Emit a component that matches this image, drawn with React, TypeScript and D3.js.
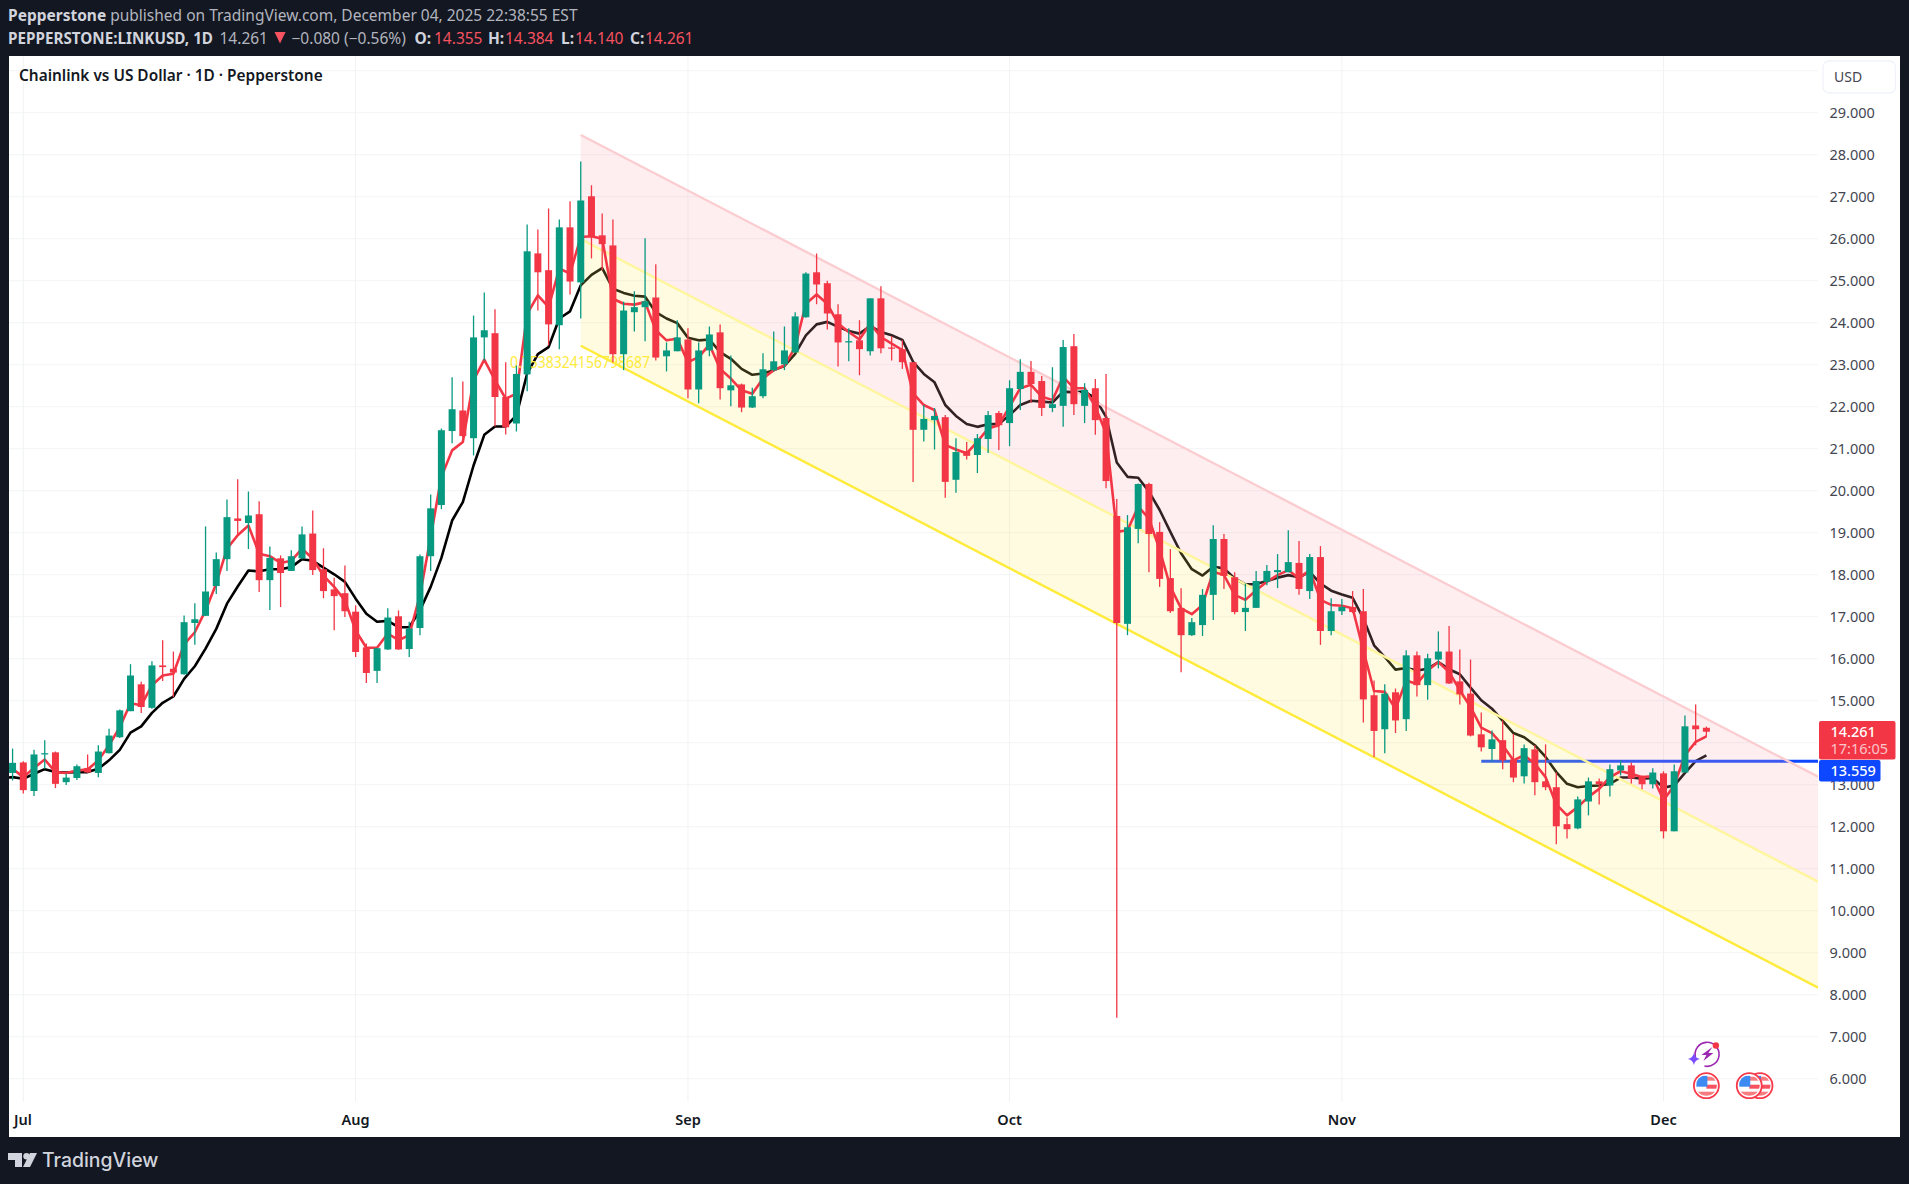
import * as d3 from "d3";

const firstCandle = Date.UTC(2025, 5, 30);
const firstAverage = Date.UTC(2025, 5, 29);
const DAY = 86400000;

const opens = [
  13.28, 13.53, 12.85, 13.72, 13.77, 13.06, 13.16, 13.40, 13.28, 13.75,
  14.13, 14.75, 15.39, 14.83, 15.84, 15.76, 15.63, 16.85, 17.02, 17.73,
  18.37, 19.34, 19.23, 19.44, 17.87, 18.39, 18.09, 18.39, 18.98, 18.13,
  17.65, 17.56, 17.12, 16.27, 15.71, 16.22, 17.01, 16.23, 16.73, 18.44,
  19.66, 21.42, 21.91, 21.25, 23.65, 23.75, 22.23, 21.60, 22.77, 25.65,
  25.25, 23.94, 26.27, 24.96, 27.01, 26.08, 25.84, 23.25, 24.25, 24.37,
  24.60, 23.20, 23.32, 23.60, 22.41, 23.34, 23.77, 22.39, 22.53, 21.98,
  22.25, 22.87, 23.01, 23.29, 24.13, 25.20, 24.94, 24.20, 23.53, 23.58,
  23.32, 24.58, 23.41, 23.37, 23.06, 21.45, 21.68, 21.75, 20.26, 20.94,
  20.85, 21.23, 21.85, 21.61, 22.42, 22.83, 22.61, 21.97, 22.02, 23.44,
  22.02, 22.44, 21.73, 19.40, 16.83, 19.09, 20.16, 19.02, 17.92, 17.21,
  16.56, 16.80, 17.52, 18.85, 17.94, 17.11, 17.21, 17.83, 18.06, 18.06,
  18.28, 17.61, 18.42, 16.66, 17.13, 17.23, 17.13, 15.13, 14.32, 15.20,
  14.56, 16.08, 15.37, 15.98, 16.17, 15.46, 15.17, 14.20, 13.85, 14.06,
  13.60, 13.20, 13.84, 13.08, 12.94, 12.06, 11.96, 12.60, 13.08, 12.98,
  13.34, 13.46, 13.17, 13.01, 13.27, 11.89, 13.29, 14.41, 14.355,
];
const highs = [
  13.86, 13.56, 13.83, 14.06, 13.79, 13.26, 13.48, 13.72, 13.94, 14.33,
  14.79, 15.87, 15.45, 15.94, 16.44, 16.17, 17.03, 17.32, 19.15, 18.53,
  19.79, 20.27, 19.98, 19.75, 18.67, 18.46, 18.58, 19.15, 19.53, 18.63,
  17.93, 18.22, 17.27, 16.36, 16.26, 17.20, 17.15, 16.88, 18.48, 19.91,
  21.48, 22.70, 22.60, 24.17, 24.72, 24.32, 23.06, 22.98, 26.34, 26.22,
  26.72, 26.46, 26.89, 27.84, 27.27, 26.60, 26.46, 24.50, 24.75, 26.01,
  25.39, 23.53, 24.06, 23.87, 23.53, 23.91, 23.96, 23.22, 22.55, 22.45,
  23.27, 23.79, 23.91, 24.25, 25.20, 25.65, 25.00, 24.44, 23.87, 24.06,
  24.58, 24.87, 23.68, 23.58, 23.06, 22.04, 21.97, 21.80, 21.25, 21.16,
  21.35, 21.90, 21.90, 22.63, 23.13, 23.09, 22.73, 22.94, 23.59, 23.73,
  22.56, 22.66, 22.78, 19.80, 19.42, 20.17, 20.19, 19.25, 18.61, 17.68,
  16.97, 17.66, 19.18, 18.97, 18.06, 17.79, 18.09, 18.23, 18.49, 19.06,
  18.80, 18.49, 18.68, 17.44, 17.42, 17.61, 17.66, 15.48, 15.39, 15.29,
  16.20, 16.17, 16.12, 16.65, 16.78, 16.22, 15.98, 14.72, 14.29, 14.53,
  14.21, 13.96, 13.94, 13.96, 13.29, 12.22, 12.72, 13.17, 13.15, 13.48,
  13.58, 13.53, 13.22, 13.39, 13.32, 13.48, 14.65, 14.91, 14.384,
];
const lows = [
  13.10, 12.79, 12.73, 13.38, 12.92, 12.99, 13.11, 13.28, 13.18, 13.74,
  14.11, 14.75, 14.71, 14.81, 15.47, 15.09, 15.62, 16.33, 17.02, 17.54,
  18.09, 18.94, 18.61, 17.59, 17.16, 17.23, 18.09, 18.37, 17.99, 17.44,
  16.68, 16.99, 16.04, 15.42, 15.42, 16.21, 16.21, 16.04, 16.56, 18.09,
  19.56, 21.13, 21.25, 20.84, 23.10, 21.53, 21.34, 21.41, 22.37, 24.29,
  23.46, 23.37, 24.67, 24.10, 25.53, 25.25, 23.06, 22.87, 23.79, 23.56,
  23.10, 22.84, 23.32, 22.20, 22.08, 23.20, 22.17, 22.01, 21.87, 21.97,
  22.20, 22.84, 22.87, 23.29, 24.12, 24.44, 23.84, 22.96, 23.08, 22.75,
  23.22, 23.27, 23.10, 22.90, 20.21, 21.17, 20.98, 19.83, 19.95, 20.74,
  20.42, 20.90, 20.97, 21.06, 21.92, 22.09, 21.78, 21.87, 21.52, 21.80,
  21.61, 21.33, 20.06, 7.45, 16.56, 18.75, 18.06, 17.71, 17.09, 15.68,
  16.54, 16.54, 16.92, 17.66, 17.06, 16.66, 17.21, 17.75, 17.68, 18.06,
  17.52, 17.42, 16.33, 16.56, 17.04, 17.09, 14.48, 13.66, 13.75, 14.23,
  14.28, 15.10, 15.02, 15.77, 15.40, 14.91, 14.15, 13.79, 13.56, 13.37,
  13.06, 13.03, 12.75, 12.87, 11.58, 11.72, 11.94, 12.27, 12.53, 12.72,
  13.22, 13.03, 12.89, 12.91, 11.72, 11.89, 13.29, 13.94, 14.14,
];
const closes = [
  13.52, 12.87, 13.72, 13.75, 13.02, 13.17, 13.44, 13.29, 13.79, 14.17,
  14.77, 15.60, 14.85, 15.84, 15.80, 15.67, 16.87, 16.94, 17.60, 18.37,
  19.37, 19.28, 19.41, 17.87, 18.40, 18.04, 18.44, 18.96, 18.11, 17.61,
  17.49, 17.13, 16.16, 15.66, 16.25, 16.98, 16.22, 16.72, 18.44, 19.58,
  21.44, 21.94, 21.30, 23.65, 23.82, 22.23, 21.51, 22.78, 25.70, 25.20,
  23.96, 26.27, 24.98, 26.91, 26.06, 25.87, 23.25, 24.29, 24.37, 24.51,
  23.17, 23.34, 23.65, 22.41, 23.34, 23.72, 22.44, 22.51, 21.98, 22.25,
  22.89, 23.08, 23.34, 24.15, 25.17, 24.91, 24.22, 23.53, 23.56, 23.37,
  24.58, 23.39, 23.38, 23.06, 21.45, 21.71, 21.78, 20.21, 20.92, 20.83,
  21.25, 21.80, 21.56, 22.44, 22.83, 22.54, 21.97, 22.06, 23.42, 22.06,
  22.40, 21.68, 20.23, 16.85, 19.13, 20.16, 18.97, 17.90, 17.13, 16.56,
  16.87, 17.52, 18.85, 17.97, 17.11, 17.21, 17.85, 18.09, 18.11, 18.30,
  17.66, 18.42, 16.66, 17.13, 17.23, 17.11, 15.03, 14.28, 15.17, 14.53,
  16.08, 15.37, 16.01, 16.17, 15.41, 15.15, 14.17, 13.89, 14.08, 13.58,
  13.17, 13.87, 13.06, 12.94, 12.01, 11.94, 12.65, 13.08, 13.01, 13.37,
  13.46, 13.15, 13.01, 13.29, 11.89, 13.32, 14.39, 14.32, 14.261,
];

// fast average, first point is one day before the first candle
const fastAverage = [
  13.45, 13.38, 13.18, 13.40, 13.60, 13.30, 13.28, 13.34, 13.36, 13.58,
  13.94, 14.37, 14.94, 14.89, 15.37, 15.60, 15.64, 16.34, 16.63, 17.15,
  17.79, 18.62, 18.94, 19.17, 18.50, 18.44, 18.28, 18.33, 18.62, 18.38,
  17.98, 17.71, 17.39, 16.67, 16.26, 16.26, 16.60, 16.44, 16.56, 17.51,
  18.90, 20.33, 20.96, 21.16, 22.63, 23.12, 22.63, 22.19, 22.31, 24.21,
  24.65, 24.37, 25.29, 25.17, 26.04, 26.06, 26.00, 24.57, 24.45, 24.43,
  24.49, 23.82, 23.58, 23.62, 23.06, 23.18, 23.48, 22.90, 22.67, 22.39,
  22.31, 22.67, 22.87, 22.98, 23.42, 24.45, 24.67, 24.45, 23.98, 23.78,
  23.60, 23.98, 23.66, 23.50, 23.35, 22.32, 22.04, 21.92, 21.09, 20.98,
  20.89, 21.17, 21.48, 21.56, 22.00, 22.44, 22.52, 22.24, 22.16, 22.71,
  22.44, 22.44, 22.00, 21.37, 19.02, 19.06, 19.62, 19.34, 18.59, 17.71,
  17.20, 17.06, 17.28, 18.07, 17.99, 17.52, 17.40, 17.63, 17.83, 17.99,
  18.11, 17.91, 18.11, 17.40, 17.28, 17.26, 17.20, 16.20, 15.23, 15.21,
  14.81, 15.48, 15.40, 15.72, 15.92, 15.68, 15.25, 14.85, 14.36, 14.23,
  13.94, 13.58, 13.70, 13.50, 13.18, 12.53, 12.27, 12.47, 12.71, 12.90,
  13.18, 13.32, 13.26, 13.18, 13.20, 12.63, 12.98, 13.70, 14.02, 14.15,
];
const slowAverage = [
  13.15, 13.18, 13.14, 13.26, 13.37, 13.30, 13.29, 13.30, 13.30, 13.38,
  13.58, 13.83, 14.24, 14.39, 14.71, 14.95, 15.10, 15.52, 15.82, 16.24,
  16.71, 17.31, 17.72, 18.10, 18.08, 18.13, 18.13, 18.18, 18.37, 18.33,
  18.17, 18.01, 17.83, 17.43, 17.07, 16.88, 16.90, 16.75, 16.75, 17.15,
  17.71, 18.40, 19.29, 19.73, 20.60, 21.33, 21.53, 21.53, 21.79, 22.79,
  23.25, 23.42, 24.10, 24.27, 24.89, 25.14, 25.30, 24.81, 24.71, 24.64,
  24.62, 24.25, 24.10, 23.99, 23.64, 23.58, 23.60, 23.30, 23.14, 22.90,
  22.76, 22.79, 22.87, 22.97, 23.26, 23.70, 23.96, 24.02, 23.90, 23.80,
  23.74, 23.92, 23.78, 23.70, 23.59, 23.07, 22.78, 22.58, 22.04, 21.78,
  21.59, 21.52, 21.58, 21.59, 21.80, 22.04, 22.14, 22.12, 22.10, 22.36,
  22.34, 22.36, 22.20, 21.76, 20.67, 20.33, 20.31, 19.98, 19.54, 19.02,
  18.51, 18.13, 17.98, 18.19, 18.15, 17.91, 17.77, 17.78, 17.85, 17.93,
  17.99, 17.94, 18.07, 17.79, 17.62, 17.53, 17.45, 16.96, 16.32, 16.04,
  15.74, 15.78, 15.72, 15.76, 15.92, 15.75, 15.63, 15.31, 15.01, 14.81,
  14.52, 14.23, 14.13, 13.94, 13.66, 13.30, 13.02, 12.94, 12.97, 12.98,
  13.02, 13.17, 13.17, 13.14, 13.16, 12.93, 12.98, 13.28, 13.56, 13.70,
];

const priceTicks = d3.range(6, 30);
const monthTicks = [
  { label: "Jul", date: Date.UTC(2025, 6, 1) },
  { label: "Aug", date: Date.UTC(2025, 7, 1) },
  { label: "Sep", date: Date.UTC(2025, 8, 1) },
  { label: "Oct", date: Date.UTC(2025, 9, 1) },
  { label: "Nov", date: Date.UTC(2025, 10, 1) },
  { label: "Dec", date: Date.UTC(2025, 11, 1) },
];

// channel drawing, price at its left and right ends
const channelStart = Date.UTC(2025, 7, 22);
const channelEnd = Date.UTC(2025, 11, 15, 10);
const channelUpper = [28.47, 13.19];
const channelMiddle = [25.99, 10.69];
const channelLower = [23.45, 8.17];
const levelPrice = 13.559;
const levelStart = Date.UTC(2025, 10, 14);
const eventDays = [Date.UTC(2025, 11, 5), Date.UTC(2025, 11, 9), Date.UTC(2025, 11, 10)];

const legendValues = [
  { text: "14.355", label: "O:", labelX: 414.5, x: 434 },
  { text: "14.384", label: "H:", labelX: 488, x: 505 },
  { text: "14.140", label: "L:", labelX: 561, x: 575 },
  { text: "14.261", label: "C:", labelX: 630, x: 645 },
];

const BG = "#131722";
const UP = "#089981";
const DOWN = "#f23645";
const FONT = "'Noto Sans', sans-serif";

const panel = { left: 9, right: 1900, top: 56, bottom: 1137 };
const plotRight = 1818;
const plotBottom = 1101.5;

const x = d3
  .scaleUtc()
  .domain([Date.UTC(2025, 6, 1), Date.UTC(2025, 11, 1)])
  .range([23.3, 1663.5]);
const y = d3.scaleLinear().domain([6, 29]).range([1078.7, 112.7]);

const candles = opens.map((open, i) => ({
  date: firstCandle + i * DAY,
  open,
  high: highs[i],
  low: lows[i],
  close: closes[i],
}));

const averageLine = d3
  .line<number>()
  .x((_, i) => x(firstAverage + i * DAY))
  .y((d) => y(d));

function bandPath(top: number[], bottom: number[]) {
  const x0 = x(channelStart);
  const x1 = x(channelEnd);
  return `M${x0},${y(top[0])}L${x1},${y(top[1])}L${x1},${y(bottom[1])}L${x0},${y(bottom[0])}Z`;
}

function ChannelLine({ prices, color }: { prices: number[]; color: string }) {
  return (
    <line
      x1={x(channelStart)}
      x2={x(channelEnd)}
      y1={y(prices[0])}
      y2={y(prices[1])}
      stroke={color}
      strokeWidth={2.4}
    />
  );
}

function FlagIcon({ cx, cy, id }: { cx: number; cy: number; id: string }) {
  return (
    <g>
      <clipPath id={id}>
        <circle cx={cx} cy={cy} r={10.5} />
      </clipPath>
      <circle cx={cx} cy={cy} r={12.5} fill="#fff" stroke="#f7394a" strokeWidth={1.8} />
      <g clipPath={`url(#${id})`}>
        <rect x={cx} y={cy - 9} width={11} height={4} fill="#f77c80" />
        <rect x={cx} y={cy - 1} width={11} height={4} fill="#f7525f" />
        <rect x={cx - 11} y={cy + 6} width={22} height={4} fill="#f77c80" />
        <rect x={cx - 10} y={cy - 10} width={11} height={11} fill="#3d8bf2" />
      </g>
    </g>
  );
}

function BoltIcon({ cx, cy }: { cx: number; cy: number }) {
  return (
    <g>
      <path
        d={`M${cx - 12},${cy + 3}A12,12 0 1 1 ${cx - 3},${cy + 12}`}
        fill="none"
        stroke="#9c27b0"
        strokeWidth={1.6}
      />
      <path
        d={`M${cx + 5},${cy - 7}L${cx - 6},${cy + 1}L${cx - 1},${cy + 1}L${cx - 4},${cy + 7}L${cx + 6},${cy - 1}L${cx + 1},${cy - 1}Z`}
        fill="#9c27b0"
      />
      <circle cx={cx + 8.5} cy={cy - 8.5} r={3.2} fill="#f23645" />
      <path
        d={`M${cx - 13.5},${cy - 1}Q${cx - 12.5},${cy + 4} ${cx - 7.5},${cy + 5}Q${cx - 12.5},${cy + 6} ${cx - 13.5},${cy + 11}Q${cx - 14.5},${cy + 6} ${cx - 19.5},${cy + 5}Q${cx - 14.5},${cy + 4} ${cx - 13.5},${cy - 1}Z`}
        fill="#7c4dff"
      />
    </g>
  );
}

export default function App() {
  const last = candles[candles.length - 1];

  return (
    <svg
      width={1909}
      height={1184}
      viewBox="0 0 1909 1184"
      style={{ position: "absolute", left: 0, top: 0, display: "block" }}
      fontFamily={FONT}
    >
      <defs>
        <clipPath id="plot">
          <rect
            x={panel.left}
            y={panel.top}
            width={plotRight - panel.left}
            height={plotBottom - panel.top}
          />
        </clipPath>
      </defs>
      <rect width={1909} height={1184} fill={BG} />
      <rect
        x={panel.left}
        y={panel.top}
        width={panel.right - panel.left}
        height={panel.bottom - panel.top}
        fill="#fff"
      />

      <text x={8} y={21} fontSize={15.5} fill="#b2b5be">
        <tspan fontWeight={700} fill="#d1d4dc">Pepperstone</tspan> published on TradingView.com, December 04, 2025 22:38:55 EST
      </text>
      <g fontSize={15.5}>
        <text x={8} y={43.5} fontWeight={700} fill="#d1d4dc" textLength={205} lengthAdjust="spacingAndGlyphs">
          PEPPERSTONE:LINKUSD, 1D
        </text>
        <text x={219.5} y={43.5} fill="#b2b5be">14.261</text>
        <path d="M274.5,32H285.6L280,43.5Z" fill="#f7525f" />
        <text x={291.5} y={43.5} fill="#b2b5be">−0.080 (−0.56%)</text>
        {legendValues.map((v) => (
          <g key={v.label}>
            <text x={v.labelX} y={43.5} fontWeight={700} fill="#d1d4dc">{v.label}</text>
            <text x={v.x} y={43.5} fill="#f7525f">{v.text}</text>
          </g>
        ))}
      </g>

      {/* grid */}
      {[30, ...priceTicks].map((p) => (
        <line key={p} x1={panel.left} x2={plotRight} y1={y(p)} y2={y(p)} stroke="#f3f4f6" strokeWidth={1} />
      ))}
      {monthTicks.map((m) => (
        <line key={m.label} x1={x(m.date)} x2={x(m.date)} y1={panel.top} y2={plotBottom} stroke="#f1f2f4" strokeWidth={1} />
      ))}

      <g clipPath="url(#plot)">
        <path d={averageLine(slowAverage) ?? ""} fill="none" stroke="#000" strokeWidth={2.6} strokeLinejoin="round" />
        <line x1={x(levelStart)} x2={plotRight} y1={y(levelPrice)} y2={y(levelPrice)} stroke="#0d47ff" strokeWidth={3} />

        <path d={bandPath(channelUpper, channelMiddle)} fill="rgb(250,170,180)" fillOpacity={0.2} />
        <path d={bandPath(channelMiddle, channelLower)} fill="rgb(255,235,100)" fillOpacity={0.2} />
        <ChannelLine prices={channelUpper} color="#fbcdd0" />
        <ChannelLine prices={channelMiddle} color="#fff59d" />
        <ChannelLine prices={channelLower} color="#ffeb3b" />

        <path d={averageLine(fastAverage) ?? ""} fill="none" stroke="#f23645" strokeWidth={2.6} strokeLinejoin="round" />

        <text x={510} y={368.3} fontSize={16} fill="#ffeb3b" textLength={140} lengthAdjust="spacingAndGlyphs">
          0.7538324156798687
        </text>

        {candles.map((c) => {
          const color = c.close >= c.open ? UP : DOWN;
          const cx = x(c.date);
          const top = y(Math.max(c.open, c.close));
          const bottom = y(Math.min(c.open, c.close));
          return (
            <g key={c.date}>
              <line x1={cx} x2={cx} y1={y(c.high)} y2={y(c.low)} stroke={color} strokeWidth={1.3} />
              <rect x={cx - 3.5} y={top} width={7} height={Math.max(bottom - top, 1)} fill={color} />
            </g>
          );
        })}
      </g>

      {eventDays.map((d, i) =>
        <FlagIcon key={d} cx={x(d)} cy={1085.7} id={`flag-${i}`} />
      ).reverse()}
      <BoltIcon cx={x(eventDays[0]) + 1} cy={1054} />

      <text x={19} y={81} fontSize={15.4} fontWeight={600} fill="#131722">
        Chainlink vs US Dollar · 1D · Pepperstone
      </text>

      {/* price scale, the 14 label sits behind the last price box */}
      {priceTicks.filter((p) => p !== 14).map((p) => (
        <text key={p} x={1829.5} y={y(p)} dy="0.36em" fontSize={14.5} fill="#434651">
          {p.toFixed(3)}
        </text>
      ))}
      <rect x={1823} y={61} width={72.5} height={32} rx={6} fill="#fff" stroke="#f0f3fa" strokeWidth={1.3} />
      <text x={1834} y={77} dy="0.36em" fontSize={14} fill="#434651">USD</text>

      <rect x={1819} y={721} width={76.5} height={38.5} rx={2} fill="#f23645" />
      <text x={1830.5} y={731.7} dy="0.36em" fontSize={14.5} fontWeight={500} fill="#fff">
        {last.close.toFixed(3)}
      </text>
      <text x={1830.5} y={749} dy="0.36em" fontSize={14.5} fill="#fff" fillOpacity={0.72}>
        17:16:05
      </text>
      <rect x={1819} y={760} width={61.5} height={21.5} rx={2} fill="#0d47ff" />
      <text x={1830.5} y={771} dy="0.36em" fontSize={14.5} fontWeight={500} fill="#fff">
        {levelPrice.toFixed(3)}
      </text>

      {/* time scale */}
      {monthTicks.map((m) => (
        <text
          key={m.label}
          x={m.label === "Jul" ? 23 : x(m.date)}
          y={1120}
          dy="0.36em"
          textAnchor="middle"
          fontSize={14.5}
          fontWeight={600}
          fill="#131722"
        >
          {m.label}
        </text>
      ))}

      {/* footer logo */}
      <path d="M8,1153H22V1167H15V1160H8Z" fill="#d1d4dc" />
      <circle cx={26.5} cy={1156.2} r={3.2} fill="#d1d4dc" />
      <path d="M30,1153H37L30,1167H23Z" fill="#d1d4dc" />
      <text x={42} y={1167} fontSize={19.4} fontWeight={500} fontFamily="Inter, sans-serif" fill="#d1d4dc">
        TradingView
      </text>
    </svg>
  );
}
